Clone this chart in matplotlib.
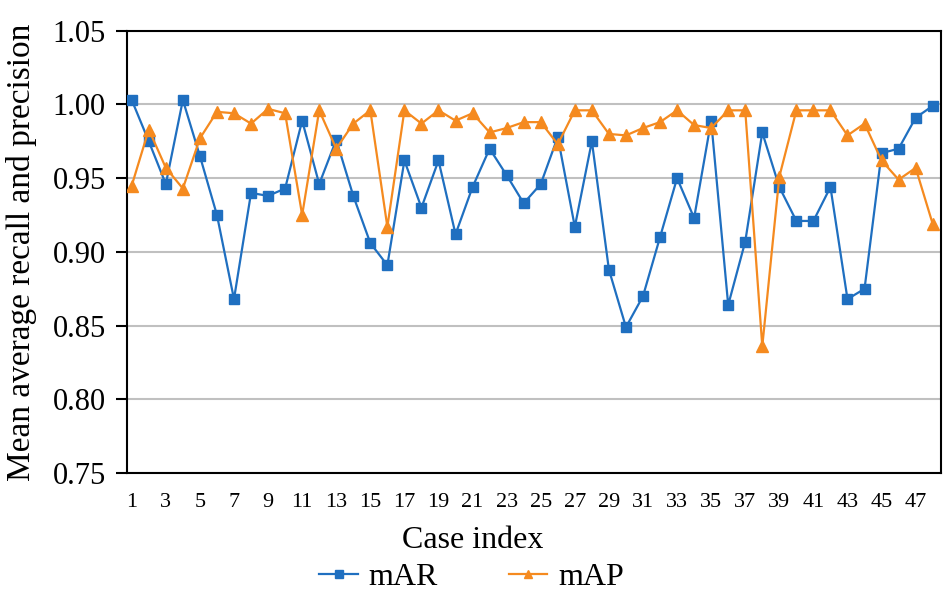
import matplotlib
matplotlib.use("Agg")
import matplotlib.pyplot as plt

# case index 1..48
cases = list(range(1, 49))

mAR = [1.003, 0.975, 0.946, 1.003, 0.965, 0.925, 0.868, 0.940, 0.938, 0.943,
       0.989, 0.946, 0.976, 0.938, 0.906, 0.891, 0.962, 0.930, 0.962, 0.912,
       0.944, 0.970, 0.952, 0.933, 0.946, 0.978, 0.917, 0.975, 0.888, 0.849,
       0.870, 0.910, 0.950, 0.923, 0.989, 0.864, 0.907, 0.981, 0.944, 0.921,
       0.921, 0.944, 0.868, 0.875, 0.967, 0.970, 0.991, 0.999]

mAP = [0.945, 0.983, 0.957, 0.943, 0.977, 0.995, 0.994, 0.987, 0.997, 0.994,
       0.925, 0.996, 0.970, 0.987, 0.996, 0.917, 0.996, 0.987, 0.996, 0.989,
       0.994, 0.981, 0.984, 0.988, 0.988, 0.973, 0.996, 0.996, 0.980, 0.979,
       0.984, 0.988, 0.996, 0.986, 0.984, 0.996, 0.996, 0.836, 0.951, 0.996,
       0.996, 0.996, 0.979, 0.987, 0.962, 0.949, 0.957, 0.919]

tick_labels = [str(i) for i in range(1, 48, 2)]
y_ticks = [0.75, 0.80, 0.85, 0.90, 0.95, 1.00, 1.05]

plt.rcParams['font.family'] = ['Liberation Serif', 'DejaVu Serif']

fig = plt.figure(figsize=(9.45, 5.9), dpi=100)
ax = fig.add_axes([0.134, 0.198, 0.862, 0.750])

blue = '#1f6fc0'
orange = '#f58a1f'

ax.plot(cases, mAR, color=blue, marker='s', markersize=7.5, linewidth=1.6, label='mAR', zorder=3)
ax.plot(cases, mAP, color=orange, marker='^', markersize=8, linewidth=1.6, label='mAP', zorder=3)

ax.set_xlim(0.7, 48.5)
ax.set_ylim(0.75, 1.05)
ax.set_yticks(y_ticks)
ax.set_yticklabels([f"{v:.2f}" for v in y_ticks], fontsize=22)
ax.set_xticks(range(1, 48, 2))
ax.set_xticklabels(tick_labels, fontsize=16)
ax.tick_params(axis='x', length=0, pad=14)
ax.tick_params(axis='y', length=8, width=1.5, direction='out', pad=7)

ax.grid(axis='y', color='#c0c0c0', linewidth=1.5, zorder=0)
for side in ['left', 'bottom', 'right', 'top']:
    ax.spines[side].set_color('black')
    ax.spines[side].set_linewidth(1.5)

# axis titles placed in figure pixels
ax.set_xlabel("Case index", fontsize=23)
ax.xaxis.set_label_coords(0.5, 1 - 540 / 590, transform=fig.transFigure)
ax.xaxis.label.set_verticalalignment('center')
ax.set_ylabel("Mean average recall and precision", fontsize=24)
ax.yaxis.set_label_coords(22 / 945, 1 - 252 / 590, transform=fig.transFigure)
ax.yaxis.label.set_verticalalignment('center')

fig.legend(loc='center', bbox_to_anchor=(0.499, 1 - 577 / 590), ncol=2, frameon=False,
           fontsize=23, handlelength=1.2, columnspacing=2.2, handletextpad=0.35,
           markerscale=0.8)

fig.savefig('out.png', dpi=100)
